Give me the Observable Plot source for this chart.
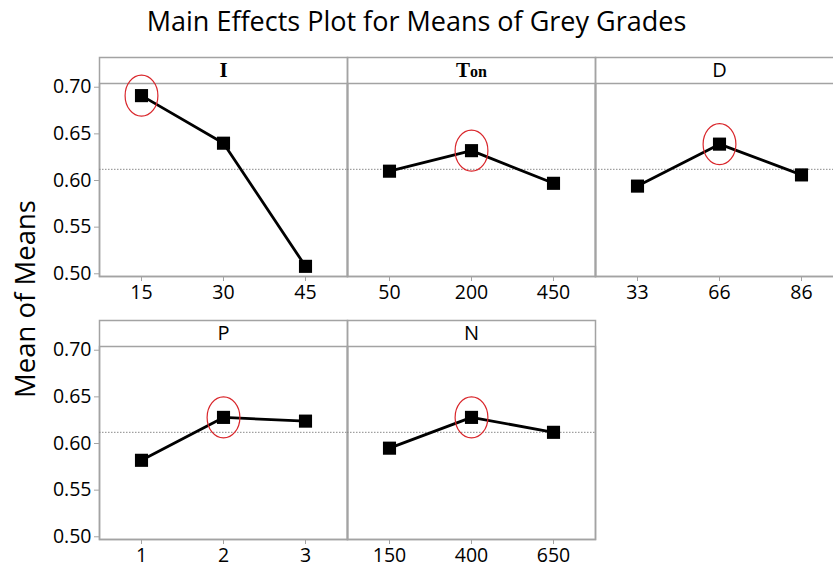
<!DOCTYPE html>
<html>
<head>
<meta charset="utf-8">
<script src="https://cdn.jsdelivr.net/npm/d3@7"></script>
<script src="https://cdn.jsdelivr.net/npm/@observablehq/plot@0.6"></script>
<style>
  html, body { margin: 0; padding: 0; background: #fff; }
  #root { position: relative; width: 833px; height: 569px; overflow: hidden; background: #fff; font-family: "Open Sans", sans-serif; }
  #title { position: absolute; left: 0; top: 2px; width: 833px; text-align: center; font-size: 27px; color: #000; }
  #ylabel { position: absolute; left: 24px; top: 299px; transform: translate(-50%, -50%) rotate(-90deg); font-size: 27.5px; color: #000; white-space: nowrap; }
  .panel { position: absolute; }
</style>
</head>
<body>
<div id="root">
  <div id="title">Main Effects Plot for Means of Grey Grades</div>
  <div id="ylabel">Mean of Means</div>
</div>
<script>
// ---- data ----
const factors = ["I", "Ton", "D", "P", "N"];
const levels = [
  ["15", "30", "45"],
  ["50", "200", "450"],
  ["33", "66", "86"],
  ["1", "2", "3"],
  ["150", "400", "650"]
];
const means = [
  [0.691, 0.640, 0.508],
  [0.610, 0.632, 0.597],
  [0.594, 0.639, 0.606],
  [0.582, 0.628, 0.624],
  [0.595, 0.628, 0.612]
];
const optimal = ["15", "200", "66", "2", "400"];
const overallMean = 0.612;
const yTicks = [0.50, 0.55, 0.60, 0.65, 0.70];

// ---- layout ----
const colLeft = [99, 347, 595];
const rowTop = [57, 320];
const panelW = 248, plotH = 193, headerH = 26;
const yDomain = [0.4971, 0.704];
const grey = "#a3a3a3";
const font = "Open Sans, sans-serif";

// custom ellipse symbol (rx = 0.8 * r, ry = r)
const ellipseSymbol = {
  draw(ctx, size) {
    const ry = Math.sqrt(size / Math.PI), rx = ry * 0.8, k = 0.5523;
    ctx.moveTo(rx, 0);
    ctx.bezierCurveTo(rx, ry * k, rx * k, ry, 0, ry);
    ctx.bezierCurveTo(-rx * k, ry, -rx, ry * k, -rx, 0);
    ctx.bezierCurveTo(-rx, -ry * k, -rx * k, -ry, 0, -ry);
    ctx.bezierCurveTo(rx * k, -ry, rx, -ry * k, rx, 0);
    ctx.closePath();
  }
};

const root = document.getElementById("root");

factors.forEach((name, i) => {
  const col = i % 3, row = Math.floor(i / 3);
  const data = levels[i].map((lv, j) => ({level: lv, mean: means[i][j]}));
  const best = data.filter(d => d.level === optimal[i]);
  const mL = col === 0 ? 99 : 2, mR = 2, mT = headerH + 2, mB = 40;
  const serif = (name === "I" || name === "Ton");
  const marks = [
    Plot.frame({stroke: grey, strokeWidth: 1.5, insetTop: -headerH}),
    Plot.frame({stroke: grey, strokeWidth: 1.5}),
    Plot.text([name], {
      frameAnchor: "top", dy: -headerH / 2, text: d => d,
      fontSize: serif ? 21 : 20,
      fontFamily: serif ? "Liberation Serif, serif" : font,
      fontWeight: serif ? "bold" : "normal",
      lineAnchor: "middle", fill: "#000"
    }),
    Plot.ruleY([overallMean], {stroke: "#8a8a8a", strokeWidth: 1, strokeDasharray: "1.5,1.5"}),
    Plot.line(data, {x: "level", y: "mean", stroke: "#000", strokeWidth: 2.8}),
    Plot.dot(data, {x: "level", y: "mean", symbol: "square", r: 7.4, fill: "#000", stroke: "none"}),
    Plot.dot(best, {x: "level", y: "mean", symbol: ellipseSymbol, r: 20.5, fill: "none", stroke: "#d9262b", strokeWidth: 1.2}),
    Plot.axisX({tickSize: 5, tickPadding: 4, stroke: grey, fill: "#000", fontSize: 19.5, fontFamily: font, label: null})
  ];
  if (col === 0) {
    marks.push(Plot.axisY({ticks: yTicks, tickFormat: d3.format(".2f"), tickSize: 5, tickPadding: 3,
      stroke: grey, fill: "#000", fontSize: 19.5, fontFamily: font, label: null}));
  }
  const chart = Plot.plot({
    width: mL + panelW + mR,
    height: mT + plotH + mB,
    marginLeft: mL, marginRight: mR, marginTop: mT, marginBottom: mB,
    style: {background: "transparent", overflow: "visible", fontFamily: font, color: "#000"},
    x: {type: "point", domain: levels[i], padding: 0.5, label: null},
    y: {domain: yDomain, label: null, axis: col === 0 ? undefined : null},
    marks
  });
  // render the smaller "on" of the Ton header
  d3.select(chart).selectAll("text").each(function() {
    if (this.textContent === "Ton" && !this.querySelector("tspan")) {
      this.textContent = "T";
      d3.select(this).append("tspan").attr("font-size", 16).text("on");
    }
  });
  chart.classList.add("panel");
  chart.style.left = (colLeft[col] - mL) + "px";
  chart.style.top = (rowTop[row] - 2) + "px";
  chart.style.position = "absolute";
  root.appendChild(chart);
});
</script>
</body>
</html>
